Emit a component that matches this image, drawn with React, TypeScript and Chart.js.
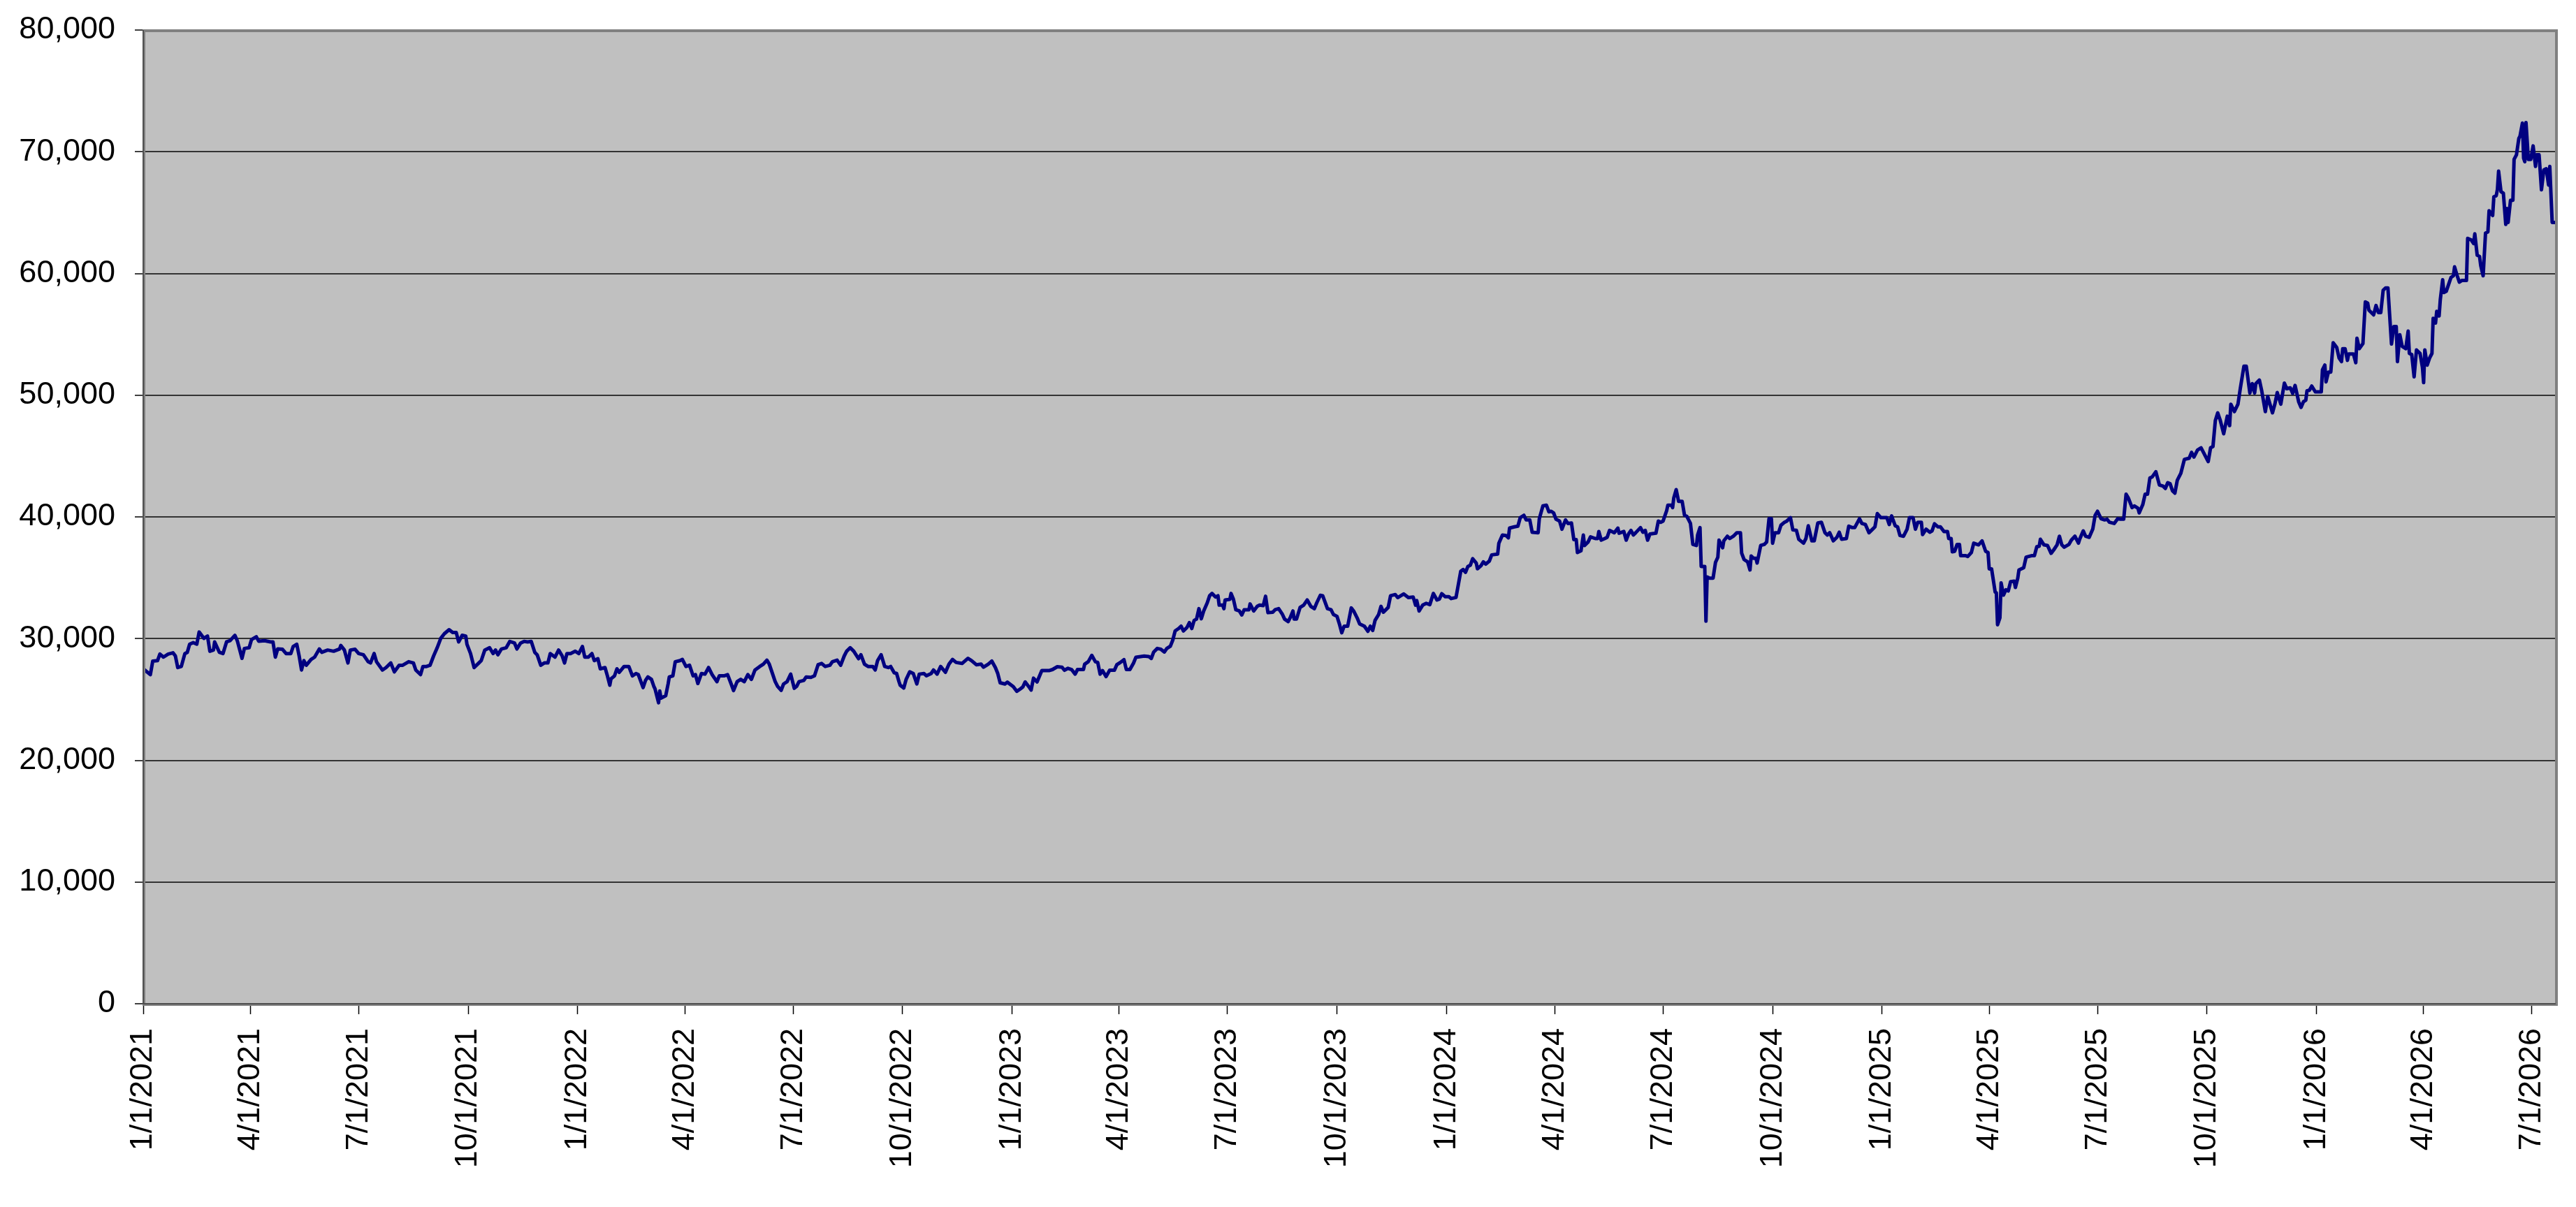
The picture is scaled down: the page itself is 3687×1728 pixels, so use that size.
import { useEffect, useRef } from "react";
import { Chart, registerables } from "chart.js";

Chart.register(...registerables);

// Day 0 = 1/1/2021
const START_DATE = Date.UTC(2021, 0, 1);

const xTickLabels = [
  "1/1/2021", "4/1/2021", "7/1/2021", "10/1/2021",
  "1/1/2022", "4/1/2022", "7/1/2022", "10/1/2022",
  "1/1/2023", "4/1/2023", "7/1/2023", "10/1/2023",
  "1/1/2024", "4/1/2024", "7/1/2024", "10/1/2024",
  "1/1/2025", "4/1/2025", "7/1/2025", "10/1/2025",
  "1/1/2026", "4/1/2026", "7/1/2026",
];

const yMin = 0;
const yMax = 80000;
const yStep = 10000;
const xMaxDay = 2027;

// [days since 1/1/2021, value]
const points2021: [number, number][] = [
  [0, 27520], [6, 27040], [8, 28150], [12, 28190], [14, 28730], [17, 28480], [21, 28730], [25, 28830],
  [27, 28580], [29, 27620], [32, 27710], [35, 28770], [37, 28870], [39, 29540], [42, 29670], [45, 29540],
  [47, 30540], [51, 30020], [54, 30210], [56, 28960], [59, 29060], [60, 29730], [64, 28870], [67, 28770],
  [70, 29730], [73, 29830], [77, 30270], [79, 29830], [83, 28380], [85, 29190], [89, 29250], [91, 29920],
  [95, 30150], [97, 29790], [102, 29830], [107, 29730], [109, 29730], [111, 28480], [113, 29150], [117, 29120],
  [120, 28770], [124, 28770], [126, 29350], [129, 29540], [131, 28580], [133, 27420], [135, 28190], [137, 27810],
  [141, 28290], [144, 28480], [148, 29150], [150, 28870], [155, 29060], [160, 28960], [165, 29150], [166, 29440],
  [169, 29060], [172, 28000], [174, 29060], [178, 29120], [181, 28770], [185, 28670], [189, 28100], [191, 28000],
  [194, 28770], [196, 28100], [201, 27420], [204, 27620], [208, 28000], [211, 27270], [215, 27810], [218, 27810],
  [223, 28100], [227, 28000], [229, 27420], [233, 27040], [235, 27710], [238, 27710], [241, 27810], [244, 28580],
  [247, 29250], [250, 30020], [253, 30400], [257, 30730], [260, 30500], [263, 30500], [265, 29730], [268, 30270],
  [271, 30210], [272, 29540], [275, 28770], [278, 27620], [282, 28000], [284, 28190], [287, 29060], [291, 29250],
  [294, 28770], [296, 29060], [298, 28670], [301, 29150], [305, 29250], [308, 29770], [312, 29630], [314, 29150],
  [317, 29630], [320, 29770], [323, 29730], [326, 29770], [329, 28870], [331, 28670], [334, 27810], [337, 28000],
  [340, 28000], [342, 28770], [346, 28480], [349, 29060], [352, 28580], [354, 28000], [356, 28770], [359, 28770],
  [363, 28960],
];

const points2022: [number, number][] = [
  [366, 28770], [369, 29350], [371, 28480], [374, 28480], [377, 28770], [379, 28190], [382, 28350], [384, 27520],
  [388, 27620], [390, 26940], [392, 26170], [393, 26690], [396, 26940], [398, 27520], [400, 27230], [404, 27710],
  [408, 27710], [411, 26940], [414, 27130], [416, 27040], [420, 25980], [422, 26560], [424, 26850], [427, 26650],
  [429, 26080], [430, 25880], [433, 24730], [434, 25690], [435, 25110], [439, 25310], [441, 26270], [442, 26850],
  [445, 26940], [447, 28100], [451, 28190], [453, 28290], [456, 27710], [459, 27810], [462, 26940], [464, 27040],
  [466, 26310], [469, 27130], [472, 27080], [475, 27620], [478, 27040], [482, 26460], [484, 26940], [488, 26940],
  [491, 27040], [494, 26270], [496, 25730], [499, 26460], [502, 26650], [505, 26460], [508, 27040], [511, 26650],
  [514, 27420], [518, 27710], [521, 27900], [524, 28230], [526, 27900], [529, 27040], [531, 26460], [533, 26080],
  [536, 25750], [538, 26270], [541, 26460], [544, 27080], [547, 25920], [549, 26080], [551, 26460], [555, 26560],
  [557, 26850], [561, 26810], [564, 26940], [567, 27850], [570, 27960], [573, 27710], [577, 27810], [579, 28100],
  [583, 28230], [586, 27810], [589, 28580], [591, 28960], [594, 29250], [597, 28960], [601, 28350], [603, 28670],
  [606, 27900], [609, 27710], [613, 27710], [615, 27420], [617, 28190], [620, 28670], [623, 27710], [626, 27620],
  [628, 27710], [631, 27190], [633, 27130], [635, 26460], [636, 26170], [639, 25940], [641, 26650], [644, 27270],
  [647, 27130], [650, 26270], [652, 27080], [656, 27130], [658, 26940], [662, 27130], [664, 27420], [667, 27080],
  [670, 27710], [674, 27230], [677, 27900], [680, 28290], [683, 28040], [688, 27960], [693, 28380], [696, 28190],
  [700, 27850], [704, 27900], [706, 27650], [710, 27900], [713, 28150], [716, 27620], [718, 27130], [720, 26370],
  [724, 26270], [726, 26420],
];

const points2023: [number, number][] = [
  [731, 26060], [734, 25670], [737, 25870], [739, 26020], [741, 26440], [744, 26060], [746, 25770], [748, 26750],
  [751, 26440], [755, 27370], [761, 27370], [764, 27460], [768, 27690], [772, 27650], [774, 27400], [777, 27560],
  [780, 27460], [783, 27080], [785, 27460], [790, 27460], [791, 27900], [794, 28100], [797, 28620], [800, 28100],
  [802, 28040], [804, 27080], [806, 27370], [809, 26880], [812, 27400], [816, 27400], [818, 27850], [821, 28040],
  [824, 28270], [826, 27460], [829, 27460], [832, 27980], [834, 28460], [838, 28520], [841, 28560], [845, 28520],
  [847, 28370], [849, 28900], [852, 29190], [855, 29130], [858, 28900], [860, 29190], [863, 29380], [865, 29870],
  [867, 30630], [870, 30830], [872, 31020], [874, 30630], [877, 30920], [879, 31310], [881, 30830], [883, 31500],
  [885, 31600], [887, 32460], [889, 31630], [891, 32270], [894, 32940], [896, 33520], [898, 33710], [901, 33420],
  [903, 33520], [904, 32750], [907, 32750], [908, 32460], [909, 33170], [913, 33230], [914, 33710], [916, 33230],
  [918, 32370], [921, 32270], [923, 31940], [925, 32370], [929, 32370], [930, 32850], [933, 32270], [936, 32650],
  [938, 32750], [941, 32710], [943, 33480], [945, 32130], [949, 32170], [951, 32370], [954, 32460], [957, 32020],
  [959, 31600], [962, 31400], [964, 31790], [966, 32270], [967, 31600], [969, 31600], [972, 32560], [975, 32750],
  [978, 33170], [981, 32650], [984, 32460], [986, 32940], [989, 33560], [991, 33520], [995, 32460], [998, 32370],
  [1000, 31980], [1003, 31830], [1005, 31210], [1007, 30480], [1009, 31020], [1012, 31020], [1015, 32520], [1017, 32270],
  [1020, 31690], [1022, 31210], [1026, 31020], [1029, 30600], [1031, 31020], [1033, 30670], [1035, 31500], [1038, 31980],
  [1040, 32650], [1042, 32170], [1046, 32560], [1048, 33520], [1052, 33620], [1054, 33370], [1059, 33670], [1063, 33370],
  [1067, 33420], [1069, 32750], [1070, 33130], [1072, 32270], [1075, 32750], [1078, 32900], [1081, 32790], [1084, 33710],
  [1087, 33170], [1089, 33250], [1091, 33690], [1094, 33440],
];

const points2024: [number, number][] = [
  [1097, 33440], [1099, 33290], [1103, 33380], [1107, 35540], [1109, 35680], [1111, 35450], [1113, 35930], [1115, 36020],
  [1117, 36560], [1120, 36210], [1121, 35740], [1124, 35990], [1126, 36310], [1128, 36120], [1131, 36370], [1133, 36880],
  [1138, 36940], [1139, 37840], [1142, 38510], [1145, 38470], [1147, 38280], [1148, 39080], [1152, 39180], [1155, 39240],
  [1157, 39940], [1160, 40130], [1162, 39750], [1165, 39750], [1167, 38740], [1172, 38700], [1173, 39850], [1176, 40900],
  [1179, 40960], [1181, 40420], [1183, 40460], [1185, 40330], [1187, 39810], [1190, 39660], [1192, 38990], [1195, 39750],
  [1197, 39460], [1200, 39500], [1202, 38130], [1204, 38130], [1205, 37070], [1208, 37210], [1210, 38510], [1211, 37650],
  [1214, 37940], [1216, 38360], [1220, 38220], [1222, 38220], [1223, 38800], [1225, 38090], [1228, 38220], [1230, 38320],
  [1232, 38890], [1234, 38800], [1236, 38700], [1239, 39080], [1240, 38660], [1244, 38800], [1246, 38090], [1248, 38600],
  [1250, 38890], [1252, 38510], [1254, 38700], [1258, 39120], [1260, 38740], [1262, 38890], [1264, 38090], [1266, 38600],
  [1271, 38660], [1273, 39660], [1275, 39560], [1277, 39660], [1280, 40520], [1281, 40960], [1284, 40960], [1285, 40760],
  [1286, 41570], [1288, 42240], [1290, 41280], [1293, 41280], [1295, 40130], [1297, 40040], [1300, 39460], [1302, 37740],
  [1305, 37650], [1306, 38510], [1308, 39120], [1309, 35930], [1312, 35930], [1313, 31430], [1314, 35070], [1316, 34970],
  [1319, 34970], [1321, 36250], [1323, 36690], [1324, 38090], [1327, 37460], [1328, 38030], [1331, 38410], [1333, 38220],
  [1336, 38410], [1339, 38700], [1342, 38700], [1343, 37020], [1345, 36500], [1348, 36310], [1350, 35640], [1351, 36790],
  [1353, 36600], [1355, 36600], [1356, 36210], [1359, 37650], [1362, 37740], [1364, 37940], [1366, 39850], [1368, 39850],
  [1369, 37840], [1371, 38700], [1374, 38700], [1376, 39310], [1379, 39560], [1381, 39660], [1384, 39940], [1386, 38930],
  [1389, 38890], [1391, 38160], [1395, 37840], [1397, 38220], [1399, 39270], [1402, 38030], [1404, 38030], [1407, 39500],
  [1410, 39560], [1413, 38700], [1415, 38510], [1417, 38700], [1420, 38030], [1423, 38320], [1425, 38740], [1427, 38160],
  [1431, 38220], [1433, 39240], [1436, 39120], [1438, 39120], [1442, 39850], [1444, 39460], [1447, 39370], [1450, 38700],
  [1453, 38990], [1455, 39180], [1457, 40270], [1460, 39940],
];

const points2025: [number, number][] = [
  [1465, 39940], [1467, 39370], [1469, 40080], [1472, 39270], [1474, 39180], [1476, 38470], [1479, 38410], [1482, 38990],
  [1484, 39940], [1487, 39940], [1489, 38990], [1491, 39560], [1494, 39560], [1495, 38550], [1498, 38990], [1501, 38740],
  [1503, 38850], [1505, 39430], [1508, 39180], [1510, 39180], [1513, 38790], [1516, 38790], [1517, 38220], [1519, 38220],
  [1520, 37130], [1522, 37170], [1524, 37740], [1526, 37740], [1527, 36820], [1531, 36820], [1533, 36750], [1536, 37070],
  [1538, 37840], [1542, 37700], [1545, 38030], [1548, 37170], [1550, 37070], [1551, 35730], [1553, 35730], [1556, 33820],
  [1557, 33760], [1558, 31140], [1560, 31710], [1561, 34580], [1563, 33570], [1565, 34010], [1567, 33910], [1569, 34680],
  [1572, 34720], [1573, 34200], [1575, 34970], [1576, 35640], [1580, 35830], [1582, 36690], [1587, 36820], [1589, 36820],
  [1591, 37550], [1593, 37590], [1594, 38160], [1597, 37700], [1600, 37650], [1603, 37010], [1605, 37260], [1608, 37700],
  [1610, 38410], [1612, 37700], [1614, 37510], [1618, 37740], [1620, 38090], [1623, 38410], [1626, 37840], [1627, 38160],
  [1630, 38850], [1632, 38410], [1635, 38320], [1638, 38990], [1640, 40130], [1642, 40460], [1645, 39850], [1648, 39750],
  [1650, 39810], [1652, 39560], [1656, 39460], [1659, 39850], [1661, 39810], [1664, 39810], [1666, 41860], [1668, 41530],
  [1671, 40770], [1673, 40900], [1676, 40710], [1677, 40330], [1680, 41000], [1682, 41860], [1684, 41860], [1686, 43200],
  [1688, 43290], [1691, 43710], [1694, 42620], [1697, 42530], [1699, 42340], [1701, 42810], [1703, 42720], [1705, 42140],
  [1707, 41950], [1709, 43000], [1712, 43580], [1715, 44730], [1719, 44820], [1721, 45300], [1723, 44920], [1726, 45490],
  [1729, 45680], [1731, 45300], [1735, 44540], [1737, 45680], [1739, 45780], [1741, 47920], [1743, 48550], [1745, 47980],
  [1748, 46830], [1751, 48270], [1753, 47500], [1754, 49260], [1757, 48650], [1760, 49260], [1762, 50560], [1765, 52380],
  [1767, 52380], [1770, 50180], [1772, 50950], [1774, 50180], [1775, 50950], [1778, 51240], [1780, 50340], [1783, 48650],
  [1785, 49900], [1789, 48550], [1791, 49260], [1793, 50220], [1796, 49260], [1799, 50990], [1801, 50530], [1804, 50600],
  [1806, 50140], [1808, 50800], [1811, 49460], [1813, 49000], [1815, 49460], [1817, 49590], [1818, 50360], [1820, 50400],
  [1822, 50750], [1825, 50270],
];

const points2026: [number, number][] = [
  [1830, 50270], [1831, 52090], [1833, 52470], [1834, 51090], [1836, 51900], [1838, 51900], [1840, 54300], [1843, 53910],
  [1845, 53050], [1847, 52760], [1848, 53820], [1850, 53820], [1852, 52860], [1853, 53390], [1857, 53390], [1859, 52670],
  [1860, 54680], [1862, 53820], [1865, 54240], [1867, 57660], [1869, 57560], [1870, 56990], [1874, 56600], [1876, 57370],
  [1878, 56790], [1880, 56790], [1882, 58620], [1884, 58810], [1886, 58810], [1889, 54200], [1891, 55640], [1893, 55640],
  [1894, 52760], [1896, 54970], [1898, 54010], [1901, 53820], [1903, 55260], [1904, 53430], [1906, 53340], [1908, 51510],
  [1910, 53720], [1913, 53430], [1915, 52280], [1916, 51030], [1917, 53720], [1919, 52470], [1921, 53050], [1923, 53430],
  [1924, 56310], [1926, 55930], [1927, 56890], [1929, 56510], [1930, 57850], [1932, 59480], [1933, 58430], [1935, 58530],
  [1937, 59100], [1939, 59670], [1941, 59810], [1942, 60540], [1944, 59870], [1946, 59290], [1948, 59420], [1952, 59420],
  [1953, 62880], [1956, 62750], [1958, 62460], [1959, 63260], [1961, 61500], [1963, 61400], [1964, 60630], [1966, 59810],
  [1968, 63320], [1970, 63420], [1971, 65150], [1974, 64760], [1975, 66300], [1977, 66390], [1978, 66910], [1979, 68410],
  [1981, 66720], [1983, 66590], [1985, 64030], [1986, 65340], [1987, 64190], [1989, 66010], [1991, 66010], [1992, 69370],
  [1994, 69750], [1996, 71100], [1997, 71290], [1999, 72350], [2000, 69470], [2001, 69180], [2002, 72400], [2004, 69370],
  [2006, 69370], [2008, 70480], [2010, 68790], [2011, 69750], [2013, 69750], [2015, 66870], [2017, 68510], [2019, 68600],
  [2021, 67260], [2022, 68790], [2024, 64190], [2027, 64190],
];

const DAY_MS = 86400000;
function labelToDay(label: string): number {
  const [m, d, y] = label.split("/").map(Number);
  return Math.round((Date.UTC(y, m - 1, d) - START_DATE) / DAY_MS);
}

const CANVAS_W = 3687;
const CANVAS_H = 1728;
const PLOT_LEFT = 205;
const PLOT_TOP = 43;
const PLOT_RIGHT = 3658;
const PLOT_BOTTOM = 1437;
const FONT_FAMILY = "'Liberation Sans', Arial, sans-serif";

const plotFrame = {
  id: "plotFrame",
  beforeDraw(chart: any) {
    const { ctx, chartArea } = chart;
    const { left, top, right, bottom } = chartArea;
    ctx.save();
    ctx.fillStyle = "#FFFFFF";
    ctx.fillRect(0, 0, chart.width, chart.height);
    ctx.fillStyle = "#C0C0C0";
    ctx.fillRect(left, top, right - left, bottom - top);
    ctx.restore();
  },
  afterDatasetsDraw(chart: any) {
    const { ctx, chartArea } = chart;
    const { left, top, right, bottom } = chartArea;
    ctx.save();
    ctx.strokeStyle = "#808080";
    ctx.lineWidth = 4;
    ctx.strokeRect(left + 1, top + 1, right - left, bottom - top);
    ctx.strokeStyle = "#404040";
    ctx.lineWidth = 1.5;
    ctx.beginPath();
    ctx.moveTo(left, top);
    ctx.lineTo(left, bottom);
    ctx.lineTo(right, bottom);
    ctx.stroke();
    ctx.restore();
  },
};

export default function App() {
  const canvasRef = useRef<HTMLCanvasElement | null>(null);

  useEffect(() => {
    document.body.style.margin = "0";
    const canvas = canvasRef.current;
    if (!canvas) return;

    const allPoints = [
      ...points2021, ...points2022, ...points2023,
      ...points2024, ...points2025, ...points2026,
    ].map(([x, y]) => ({ x, y }));

    const tickDays = xTickLabels.map(labelToDay);
    const labelByDay = new Map<number, string>();
    xTickLabels.forEach((l, i) => labelByDay.set(tickDays[i], l));

    const chart = new Chart(canvas, {
      type: "line",
      data: {
        datasets: [
          {
            data: allPoints,
            borderColor: "#000080",
            borderWidth: 5,
            pointRadius: 0,
            tension: 0,
            fill: false,
            borderJoinStyle: "round",
          },
        ],
      },
      plugins: [plotFrame],
      options: {
        animation: false,
        responsive: false,
        devicePixelRatio: 1,
        parsing: false,
        normalized: true,
        layout: {
          autoPadding: false,
          padding: { top: PLOT_TOP, right: CANVAS_W - PLOT_RIGHT, left: 0, bottom: 0 },
        },
        plugins: {
          legend: { display: false },
          tooltip: { enabled: false },
          title: { display: false },
        },
        scales: {
          x: {
            type: "linear",
            min: 0,
            max: xMaxDay,
            afterFit: (scale: any) => {
              scale.height = CANVAS_H - PLOT_BOTTOM;
              scale.paddingLeft = 0;
              scale.paddingRight = 0;
              scale.paddingTop = 0;
              scale.paddingBottom = 0;
            },
            afterBuildTicks: (scale: any) => {
              scale.ticks = tickDays.map((v) => ({ value: v }));
            },
            grid: {
              drawOnChartArea: false,
              drawTicks: true,
              tickLength: 15,
              tickColor: "#000000",
              tickWidth: 1.5,
            },
            border: { display: false },
            ticks: {
              autoSkip: false,
              minRotation: 90,
              maxRotation: 90,
              padding: 20,
              color: "#000000",
              font: { family: FONT_FAMILY, size: 45 },
              callback: (value: any) => labelByDay.get(Number(value)) ?? "",
            },
          },
          y: {
            type: "linear",
            min: yMin,
            max: yMax,
            afterFit: (scale: any) => {
              scale.width = PLOT_LEFT;
              scale.paddingTop = 0;
              scale.paddingBottom = 0;
              scale.paddingLeft = 0;
              scale.paddingRight = 0;
            },
            grid: {
              color: "#333333",
              lineWidth: 2,
              drawTicks: true,
              tickLength: 12,
              tickColor: "#000000",
              tickWidth: 1.5,
            },
            border: { display: false },
            ticks: {
              stepSize: yStep,
              padding: 28,
              color: "#000000",
              font: { family: FONT_FAMILY, size: 45 },
              callback: (value: any) => Number(value).toLocaleString("en-US"),
            },
          },
        },
      },
    } as any);

    return () => chart.destroy();
  }, []);

  return (
    <div style={{ width: CANVAS_W, height: CANVAS_H, background: "#FFFFFF" }}>
      <canvas
        ref={canvasRef}
        width={CANVAS_W}
        height={CANVAS_H}
        style={{ display: "block", width: CANVAS_W, height: CANVAS_H }}
      />
    </div>
  );
}
